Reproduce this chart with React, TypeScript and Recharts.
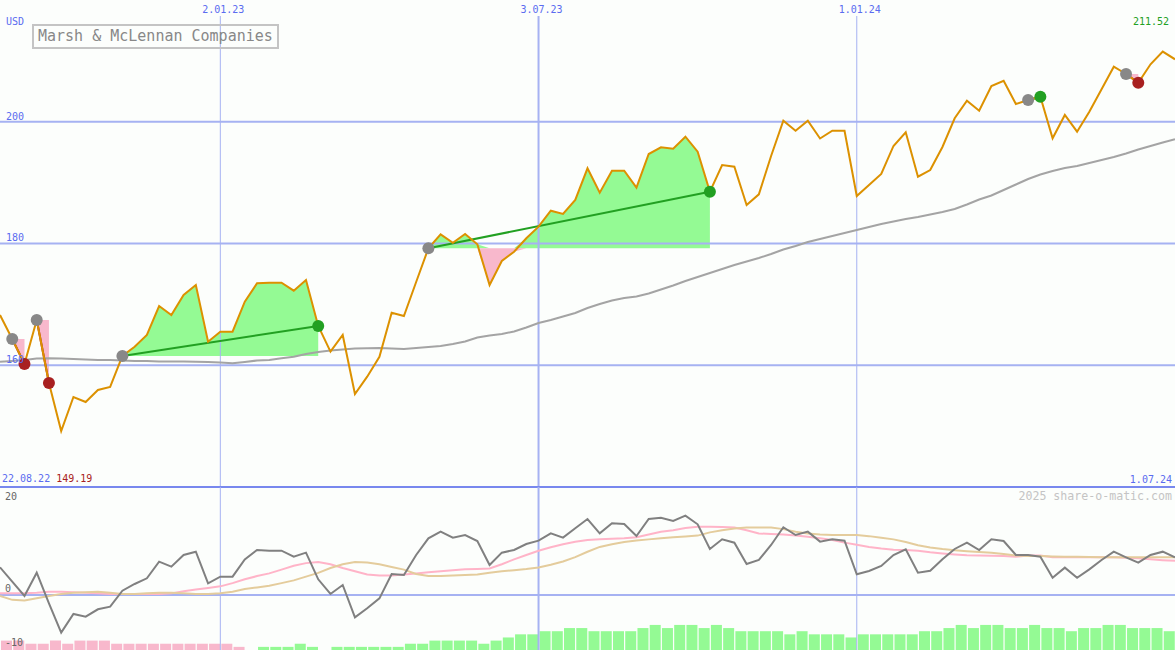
import React from 'react';
import { ComposedChart, Line, Area, Bar, Cell, XAxis, YAxis, ReferenceLine } from 'recharts';

// weekly closes, 22.08.22 .. 1.07.24 (week index 1..97)
const price = [
  168.25, 164.31, 160.2, 167.43, 157.08, 149.19, 154.78, 153.96, 155.93, 156.43,
  161.52, 163.05, 164.97, 169.73, 168.25, 171.54, 173.18, 163.87, 165.51, 165.51,
  170.44, 173.46, 173.56, 173.56, 172.25, 174.0, 166.45, 162.23, 164.97, 155.28,
  158.12, 161.4, 168.63, 168.09, 173.68, 179.21, 181.51, 180.13, 181.56, 179.87,
  173.18, 177.13, 178.65, 180.85, 182.76, 185.39, 184.85, 187.15, 192.35, 188.34,
  191.96, 191.96, 189.17, 194.7, 195.8, 195.57, 197.54, 195.08, 188.51, 192.89,
  192.62, 186.32, 188.08, 194.37, 200.17, 198.53, 200.17, 197.25, 198.53, 198.53,
  187.8, 189.61, 191.42, 196.02, 198.27, 190.97, 192.07, 195.85, 200.57, 203.46,
  201.82, 205.87, 206.74, 202.92, 203.57, 204.11, 197.28, 201.11, 198.37, 201.65,
  205.33, 209.04, 207.84, 206.41, 209.44, 211.52, 210.26,
];

const movingAvg = [
  160.58, 160.7, 160.86, 161.1, 161.14, 161.1, 161.03, 160.94, 160.86, 160.86,
  160.78, 160.7, 160.7, 160.61, 160.61, 160.61, 160.58, 160.53, 160.45, 160.32,
  160.53, 160.78, 160.86, 161.14, 161.4, 161.85, 162.18, 162.42, 162.59, 162.75,
  162.79, 162.83, 162.75, 162.67, 162.83, 163.0, 163.16, 163.49, 163.9, 164.56,
  164.89, 165.13, 165.54, 166.2, 166.94, 167.43, 168.01, 168.58, 169.4, 170.06,
  170.64, 171.05, 171.3, 171.79, 172.44, 173.1, 173.84, 174.5, 175.15, 175.81,
  176.47, 177.04, 177.62, 178.27, 179.01, 179.59, 180.25, 180.74, 181.23, 181.72,
  182.22, 182.71, 183.2, 183.61, 184.02, 184.35, 184.76, 185.17, 185.67, 186.41,
  187.23, 187.88, 188.79, 189.69, 190.6, 191.33, 191.91, 192.4, 192.73, 193.22,
  193.72, 194.21, 194.78, 195.44, 196.02, 196.59, 197.12,
];

const momentum = [
  5.13, 2.46, -0.19, 4.13, -1.54, -6.98, -3.52, -4.01, -2.65, -2.16,
  0.8, 2.04, 3.09, 6.17, 5.25, 7.41, 8.02, 2.16, 3.4, 3.4,
  6.6, 8.33, 8.2, 8.2, 7.1, 7.84, 2.9, 0.19, 1.85, -4.14,
  -2.47, -0.62, 3.89, 3.7, 7.4, 10.5, 11.73, 10.62, 11.11, 10.0,
  5.56, 7.84, 8.33, 9.44, 10.06, 11.42, 10.62, 12.35, 14.07, 11.42,
  13.27, 13.15, 10.93, 14.07, 14.32, 13.7, 14.69, 13.09, 8.52, 10.31,
  9.69, 5.74, 6.48, 9.26, 12.54, 11.11, 11.73, 9.88, 10.31, 10.06,
  3.83, 4.44, 5.37, 7.41, 8.46, 4.13, 4.5, 6.6, 8.52, 9.69,
  8.33, 10.31, 10.0, 7.41, 7.41, 7.1, 3.2, 5.06, 3.2, 4.75,
  6.48, 8.02, 6.98, 5.98, 7.41, 8.02, 6.98,
];

const signalFast = [
  0.3, 0.3, 0.3, 0.4, 0.6, 0.6, 0.5, 0.4, 0.3, 0.2,
  0.2, 0.2, 0.2, 0.2, 0.3, 0.7, 1.0, 1.3, 1.6, 2.2,
  2.9, 3.5, 4.0, 4.7, 5.4, 5.9, 6.1, 5.7, 5.0, 4.4,
  3.8, 3.6, 3.6, 3.8, 4.0, 4.2, 4.4, 4.6, 4.75, 4.8,
  4.9, 5.7, 6.6, 7.4, 8.2, 8.85, 9.4, 9.85, 10.2, 10.3,
  10.4, 10.5, 10.7, 11.2, 11.7, 12.0, 12.4, 12.65, 12.65, 12.6,
  12.5, 12.0, 11.4, 11.3, 11.2, 11.0, 10.8, 10.5, 10.2, 9.7,
  9.3, 8.9, 8.6, 8.4, 8.35, 8.2, 7.9, 7.7, 7.5, 7.35,
  7.3, 7.25, 7.2, 7.1, 7.3, 7.3, 7.0, 7.0, 7.0, 7.0,
  7.0, 7.0, 6.9, 6.8, 6.6, 6.45, 6.35,
];

const signalSlow = [
  -0.2, -0.9, -1.0, -0.6, -0.2, 0.2, 0.4, 0.5, 0.6, 0.4,
  0.2, 0.2, 0.3, 0.4, 0.4, 0.3, 0.2, 0.2, 0.3, 0.6,
  1.1, 1.4, 1.7, 2.2, 2.7, 3.4, 4.1, 5.0, 5.7, 6.1,
  6.0, 5.7, 5.2, 4.7, 3.9, 3.5, 3.5, 3.6, 3.7, 3.8,
  4.1, 4.4, 4.6, 4.8, 5.1, 5.6, 6.2, 7.0, 8.0, 8.9,
  9.4, 9.8, 10.1, 10.3, 10.5, 10.7, 10.85, 11.0, 11.6, 12.0,
  12.3, 12.5, 12.5, 12.5, 12.2, 11.7, 11.4, 11.2, 11.1, 11.1,
  11.1, 10.9, 10.6, 10.3, 9.8, 9.2, 8.8, 8.5, 8.3, 8.1,
  7.95, 7.8, 7.6, 7.3, 7.2, 7.2, 7.15, 7.1, 7.1, 7.05,
  7.0, 7.0, 7.0, 7.0, 7.0, 6.98, 6.98,
];

// signed strength blocks, negative = pink
const histogram = [
  -3, -3, -2, -2, -3, -2, -3, -3, -3, -2,
  -2, -2, -2, -2, -2, -2, -2, -2, -2, -1,
  0, 1, 1, 1, 2, 1, 0, 1, 1, 1,
  1, 1, 1, 2, 2, 3, 3, 3, 3, 2,
  3, 4, 5, 5, 6, 6, 7, 7, 6, 6,
  6, 6, 7, 8, 7, 8, 8, 7, 8, 7,
  6, 6, 6, 6, 5, 6, 5, 5, 5, 4,
  5, 5, 5, 5, 5, 6, 6, 7, 8, 7,
  8, 8, 7, 7, 8, 7, 7, 6, 7, 7,
  8, 8, 7, 7, 7, 6, 6,
];

const priceTicks = [160, 180, 200];
const dateTicks = [19, 45, 71];
const dateLabels = ['2.01.23', '3.07.23', '1.01.24'];
const lowerTicks = [-10, 0, 20];

const trendStarts = [2, 4, 11, 36, 85, 93];
const trendEnds = [3, 5, 27, 59, 86, 94];

const BLUE_TEXT = '#5a6cf0';
const GRID = '#a6b2f2';
const GREEN_FILL = '#94fa94';
const PINK_FILL = '#f8b8cc';
const GREEN = '#22a022';
const RED = '#a82020';
const GRAY_DOT = '#888888';
const FONT = "'DejaVu Sans Mono', monospace";

const rows = price.map((p, i) => ({
  x: i + 1,
  price: p,
  ma: movingAvg[i],
  mom: momentum[i],
  fast: signalFast[i],
  slow: signalSlow[i],
  hist: Math.abs(histogram[i]),
  histUp: histogram[i] >= 0,
}));

const segments = trendStarts.map((s, k) => {
  const e = trendEnds[k];
  const base = price[s - 1];
  return { s, e, base, up: price[e - 1] > base };
});

const markerFill = (x: number) => {
  if (trendStarts.includes(x)) return GRAY_DOT;
  const k = trendEnds.indexOf(x);
  if (k >= 0) return segments[k].up ? GREEN : RED;
  return null;
};

const renderMarker = (p: any) => {
  const fill = markerFill(p.payload.x);
  if (!fill) return <g key={`m${p.index}`} />;
  return <circle key={`m${p.index}`} cx={p.cx} cy={p.cy} r={6} fill={fill} />;
};

const PriceTick = (p: any) => (
  <text x={6} y={p.y - 2} fill={BLUE_TEXT} fontSize={10} fontFamily={FONT}>
    {p.payload.value}
  </text>
);

const DateTick = (p: any) => (
  <text x={p.x + 3} y={13} fill={BLUE_TEXT} fontSize={10} fontFamily={FONT} textAnchor="middle">
    {dateLabels[dateTicks.indexOf(p.payload.value)]}
  </text>
);

const LowerTick = (p: any) => (
  <text x={5} y={p.payload.value === 20 ? p.y + 12.5 : p.y - 3} fill="#666" fontSize={10} fontFamily={FONT}>
    {p.payload.value}
  </text>
);

export default function App() {
  return (
    <div style={{ position: 'absolute', left: 0, top: 0, width: 1175, height: 650, background: '#fcfefc', overflow: 'hidden' }}>
      <div style={{ position: 'absolute', left: 0, top: 0 }}>
        <ComposedChart width={1175} height={489} data={rows} margin={{ top: 0, right: 0, bottom: 2, left: 0 }}>
          <XAxis
            dataKey="x"
            type="number"
            orientation="top"
            domain={[1, 97]}
            allowDataOverflow
            ticks={dateTicks}
            height={16}
            axisLine={false}
            tickLine={false}
            tick={DateTick}
          />
          <YAxis
            type="number"
            domain={[140, 217.37]}
            allowDataOverflow
            ticks={priceTicks}
            interval={0}
            mirror
            width={40}
            axisLine={false}
            tickLine={false}
            tick={PriceTick}
          />
          {priceTicks.map((t) => (
            <ReferenceLine key={`h${t}`} y={t} stroke={GRID} strokeWidth={2} />
          ))}
          {dateTicks.map((t, i) => (
            <ReferenceLine key={`v${t}`} x={t} stroke={GRID} strokeWidth={i === 1 ? 2 : 1} />
          ))}
          <ReferenceLine y={140} stroke="#7888ee" strokeWidth={2} />

          {segments.map((g) => (
            <Area
              key={`ga${g.s}`}
              dataKey={(r: any) => (r.x >= g.s && r.x <= g.e ? [g.base, Math.max(r.price, g.base)] : null)}
              stroke="none"
              fill={GREEN_FILL}
              fillOpacity={1}
              isAnimationActive={false}
              activeDot={false}
            />
          ))}
          {segments.map((g) => (
            <Area
              key={`pa${g.s}`}
              dataKey={(r: any) => (r.x >= g.s && r.x <= g.e ? [Math.min(r.price, g.base), g.base] : null)}
              stroke="none"
              fill={PINK_FILL}
              fillOpacity={1}
              isAnimationActive={false}
              activeDot={false}
            />
          ))}

          <Line dataKey="ma" stroke="#a4a4a4" strokeWidth={2} dot={false} activeDot={false} isAnimationActive={false} />
          {segments.map((g) => (
            <Line
              key={`tl${g.s}`}
              dataKey={(r: any) => (r.x === g.s || r.x === g.e ? r.price : null)}
              connectNulls
              stroke={g.up ? GREEN : RED}
              strokeWidth={2}
              dot={false}
              activeDot={false}
              isAnimationActive={false}
            />
          ))}
          <Line dataKey="price" stroke="none" dot={renderMarker} activeDot={false} isAnimationActive={false} />
          <Line dataKey="price" stroke="#dc9100" strokeWidth={2} dot={false} activeDot={false} isAnimationActive={false} />
        </ComposedChart>
      </div>

      <div style={{ position: 'absolute', left: 0, top: 487 }}>
        <ComposedChart width={1175} height={163} data={rows} margin={{ top: 0, right: 0, bottom: 0, left: 0 }}>
          <XAxis dataKey="x" type="number" domain={[1, 97]} allowDataOverflow hide />
          <XAxis xAxisId="bar" dataKey="x" type="number" domain={[0.5, 96.5]} allowDataOverflow hide />
          <YAxis
            type="number"
            domain={[-10.19, 20]}
            allowDataOverflow
            ticks={lowerTicks}
            interval={0}
            mirror
            width={40}
            axisLine={false}
            tickLine={false}
            tick={LowerTick}
          />
          <YAxis yAxisId="bar" type="number" domain={[0, 52]} allowDataOverflow hide />
          <ReferenceLine y={0} stroke={GRID} strokeWidth={2} />
          {dateTicks.map((t, i) => (
            <ReferenceLine key={`lv${t}`} x={t} stroke={GRID} strokeWidth={i === 1 ? 2 : 1} />
          ))}
          <Bar dataKey="hist" xAxisId="bar" yAxisId="bar" barSize={13} isAnimationActive={false}>
            {rows.map((r) => (
              <Cell key={`c${r.x}`} fill={r.histUp ? GREEN_FILL : PINK_FILL} />
            ))}
          </Bar>
          <Line dataKey="fast" stroke="#ffb4c8" strokeWidth={2} dot={false} activeDot={false} isAnimationActive={false} />
          <Line dataKey="slow" stroke="#e4cc9c" strokeWidth={2} dot={false} activeDot={false} isAnimationActive={false} />
          <Line dataKey="mom" stroke="#808080" strokeWidth={2} dot={false} activeDot={false} isAnimationActive={false} />
        </ComposedChart>
      </div>

      <svg width={1175} height={650} style={{ position: 'absolute', left: 0, top: 0, pointerEvents: 'none' }}>
        <text x={6} y={25} fill={BLUE_TEXT} fontSize={10} fontFamily={FONT}>USD</text>
        <rect x={33} y={25} width={245} height={23} fill="none" stroke="#c4c4c4" strokeWidth={2} />
        <text x={38} y={41} fill="#888" fontSize={15} fontFamily={FONT}>Marsh &amp; McLennan Companies</text>
        <text x={1169} y={24.5} fill={GREEN} fontSize={10} fontFamily={FONT} textAnchor="end">211.52</text>
        <text x={2} y={481.5} fontSize={10} fontFamily={FONT}>
          <tspan fill={BLUE_TEXT}>22.08.22</tspan>
          <tspan fill={RED}> 149.19</tspan>
        </text>
        <text x={1172} y={482.5} fill={BLUE_TEXT} fontSize={10} fontFamily={FONT} textAnchor="end">1.07.24</text>
        <text x={1172} y={500} fill="#c4c4c4" fontSize={11.6} fontFamily={FONT} textAnchor="end">2025 share-o-matic.com</text>
      </svg>
    </div>
  );
}
